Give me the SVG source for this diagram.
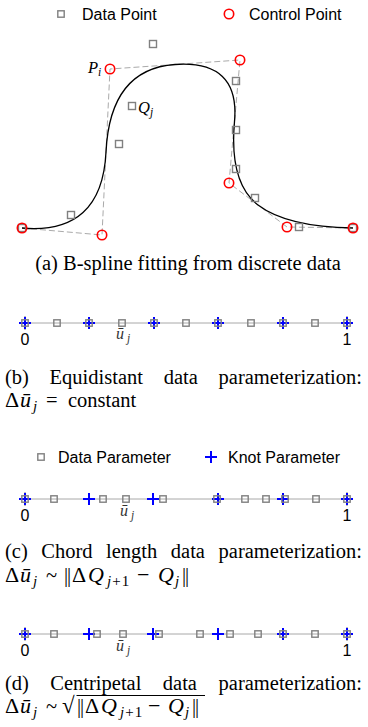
<svg xmlns="http://www.w3.org/2000/svg" width="368" height="727" viewBox="0 0 368 727">
<style>
.sq{fill:none;stroke:#808080;stroke-width:1.4}
.cp{fill:none;stroke:#ff0000;stroke-width:1.6}
.kn{fill:none;stroke:#0000ff;stroke-width:2}
.ax{stroke:#a8a8a8;stroke-width:1}
.tk{stroke:#808080;stroke-width:1}
.poly{fill:none;stroke:#aaaaaa;stroke-width:1;stroke-dasharray:6,3}
.curve{fill:none;stroke:#000000;stroke-width:1.3}
.leg{font-family:"Liberation Sans",Arial,sans-serif;font-size:16px;fill:#000000}
.num{font-family:"Liberation Sans",Arial,sans-serif;font-size:16px;fill:#000000;text-anchor:middle}
.cap{font-family:"Liberation Serif","Times New Roman",serif;font-size:20.5px;fill:#000000}
.m{font-size:22px}
.it{font-style:italic}
.sub{font-size:15px}
.lbl{font-family:"Liberation Serif","Times New Roman",serif;font-style:italic;font-size:16px;fill:#333333}
.lsub{font-size:11.5px}
</style>
<defs>
<rect id="s" x="-3.5" y="-3.5" width="7" height="7" class="sq"/>
<rect id="s2" x="-3.2" y="-3.2" width="6.4" height="6.4" class="sq"/>
<circle id="c" r="4.7" class="cp"/>
<path id="k" d="M-6,0H6M0,-6V6" class="kn"/>
<path id="t" d="M0,-7V7" class="tk"/>
</defs>

<g id="legend-a">
<use href="#s2" x="61" y="14"/>
<text class="leg" x="82" y="20">Data Point</text>
<use href="#c" x="229" y="14"/>
<text class="leg" x="249" y="20">Control Point</text>
</g>

<g id="connectors">
<path id="control-polygon" class="poly" d="M22,228 L102,235 L110,69 L240,60 L229,183 L287,227 L353,228"/>
<path id="bspline-curve" class="curve" d="M22,228 Q102,235 106,152 Q110,69 175,64.5 Q240,60 234.5,121.5 Q229,183 258,205 Q287,227 353,228"/>
</g>

<g id="data-points">
<use href="#s" x="22" y="228"/>
<use href="#s" x="71" y="215"/>
<use href="#s" x="119" y="144"/>
<use href="#s" x="132" y="106"/>
<use href="#s" x="153" y="44"/>
<use href="#s" x="236" y="81"/>
<use href="#s" x="236" y="130"/>
<use href="#s" x="236" y="169"/>
<use href="#s" x="255" y="198"/>
<use href="#s" x="299" y="227"/>
<use href="#s" x="353" y="228"/>
</g>

<g id="control-points">
<use href="#c" x="22" y="228"/>
<use href="#c" x="102" y="235"/>
<use href="#c" x="110" y="69"/>
<use href="#c" x="240" y="60"/>
<use href="#c" x="229" y="183"/>
<use href="#c" x="287" y="227"/>
<use href="#c" x="353" y="228"/>
</g>

<g id="point-labels">
<text class="lbl" style="fill:#000;font-size:16.5px" x="88" y="73">P<tspan class="lsub" x="98" y="76">i</tspan></text>
<text class="lbl" style="fill:#000;font-size:16.5px" x="138" y="113">Q<tspan class="lsub" x="150" y="116">j</tspan></text>
</g>

<g id="caption-a">
<text class="cap" x="188" y="270" text-anchor="middle">(a) B-spline fitting from discrete data</text>
</g>

<g id="axis-b">
<line class="ax" x1="21" y1="323" x2="351" y2="323"/>
<use href="#t" x="25" y="323"/>
<use href="#t" x="347" y="323"/>
<use href="#k" x="25" y="323"/>
<use href="#k" x="89" y="323"/>
<use href="#k" x="154" y="323"/>
<use href="#k" x="218" y="323"/>
<use href="#k" x="283" y="323"/>
<use href="#k" x="347" y="323"/>
<use href="#s2" x="25" y="323"/>
<use href="#s2" x="57" y="323"/>
<use href="#s2" x="89" y="323"/>
<use href="#s2" x="122" y="323"/>
<use href="#s2" x="154" y="323"/>
<use href="#s2" x="186" y="323"/>
<use href="#s2" x="218" y="323"/>
<use href="#s2" x="251" y="323"/>
<use href="#s2" x="283" y="323"/>
<use href="#s2" x="315" y="323"/>
<use href="#s2" x="347" y="323"/>
<text class="num" x="25" y="345">0</text>
<text class="num" x="347" y="345">1</text>
<text class="lbl" x="116" y="339">ū<tspan class="lsub" x="127" y="342">j</tspan></text>
</g>

<g id="caption-b">
<text class="cap" y="384"><tspan x="5">(b)</tspan><tspan x="49.6">Equidistant</tspan><tspan x="163.7">data</tspan></text>
<text class="cap" x="362" y="384" text-anchor="end">parameterization:</text>
<text class="cap" y="407"><tspan class="m" x="5">Δ</tspan><tspan class="it m" x="20">ū</tspan><tspan class="it sub" x="33" y="411">j</tspan><tspan x="46" y="407">=</tspan><tspan x="68">constant</tspan></text>
</g>

<g id="legend-c">
<use href="#s2" x="41" y="457"/>
<text class="leg" x="58" y="463">Data Parameter</text>
<use href="#k" x="211" y="457"/>
<text class="leg" x="228" y="463">Knot Parameter</text>
</g>

<g id="axis-c">
<line class="ax" x1="21" y1="499" x2="351" y2="499"/>
<use href="#t" x="25" y="499"/>
<use href="#t" x="347" y="499"/>
<use href="#k" x="25" y="499"/>
<use href="#k" x="89" y="499"/>
<use href="#k" x="153" y="499"/>
<use href="#k" x="218" y="499"/>
<use href="#k" x="283" y="499"/>
<use href="#k" x="347" y="499"/>
<use href="#s2" x="25" y="499"/>
<use href="#s2" x="54" y="499"/>
<use href="#s2" x="103" y="499"/>
<use href="#s2" x="126" y="499"/>
<use href="#s2" x="163" y="499"/>
<use href="#s2" x="217" y="499"/>
<use href="#s2" x="245" y="499"/>
<use href="#s2" x="266" y="499"/>
<use href="#s2" x="285" y="499"/>
<use href="#s2" x="316" y="499"/>
<use href="#s2" x="347" y="499"/>
<text class="num" x="25" y="521">0</text>
<text class="num" x="347" y="521">1</text>
<text class="lbl" x="120" y="516">ū<tspan class="lsub" x="131" y="519">j</tspan></text>
</g>

<g id="caption-c">
<text class="cap" y="558"><tspan x="5">(c)</tspan><tspan x="41.3">Chord</tspan><tspan x="106">length</tspan><tspan x="170.8">data</tspan></text>
<text class="cap" x="362" y="558" text-anchor="end">parameterization:</text>
<text class="cap" y="582"><tspan class="m" x="5">Δ</tspan><tspan class="it m" x="20">ū</tspan><tspan class="it sub" x="33" y="586">j</tspan><tspan x="46" y="582">~</tspan><tspan x="64" letter-spacing="-1">||</tspan><tspan class="m" x="72">Δ</tspan><tspan class="it m" x="88">Q</tspan><tspan class="sub" x="107" y="586" letter-spacing="1"><tspan class="it">j</tspan>+1</tspan><tspan class="m" x="137" y="582">−</tspan><tspan class="it m" x="158">Q</tspan><tspan class="it sub" x="175" y="586">j</tspan><tspan x="182" y="582" letter-spacing="-1">||</tspan></text>
</g>

<g id="axis-d">
<line class="ax" x1="21" y1="634" x2="351" y2="634"/>
<use href="#t" x="25" y="634"/>
<use href="#t" x="347" y="634"/>
<use href="#k" x="25" y="634"/>
<use href="#k" x="89" y="634"/>
<use href="#k" x="153" y="634"/>
<use href="#k" x="218" y="634"/>
<use href="#k" x="283" y="634"/>
<use href="#k" x="347" y="634"/>
<use href="#s2" x="25" y="634"/>
<use href="#s2" x="54" y="634"/>
<use href="#s2" x="97" y="634"/>
<use href="#s2" x="123" y="634"/>
<use href="#s2" x="159" y="634"/>
<use href="#s2" x="200" y="634"/>
<use href="#s2" x="230" y="634"/>
<use href="#s2" x="258" y="634"/>
<use href="#s2" x="283" y="634"/>
<use href="#s2" x="315" y="634"/>
<use href="#s2" x="347" y="634"/>
<text class="num" x="25" y="656">0</text>
<text class="num" x="347" y="656">1</text>
<text class="lbl" x="116" y="651">ū<tspan class="lsub" x="127" y="654">j</tspan></text>
</g>

<g id="caption-d">
<text class="cap" y="690"><tspan x="5">(d)</tspan><tspan x="50.3">Centripetal</tspan><tspan x="162.8">data</tspan></text>
<text class="cap" x="362" y="690" text-anchor="end">parameterization:</text>
<text class="cap" y="713"><tspan class="m" x="5">Δ</tspan><tspan class="it m" x="20">ū</tspan><tspan class="it sub" x="33" y="717">j</tspan><tspan x="46" y="713">~</tspan><tspan x="62" style="font-size:23px">√</tspan><tspan x="77" letter-spacing="-1">||</tspan><tspan class="m" x="85">Δ</tspan><tspan class="it m" x="101">Q</tspan><tspan class="sub" x="120" y="717" letter-spacing="1"><tspan class="it">j</tspan>+1</tspan><tspan class="m" x="148" y="713">−</tspan><tspan class="it m" x="168">Q</tspan><tspan class="it sub" x="185" y="717">j</tspan><tspan x="192" y="713" letter-spacing="-1">||</tspan></text>
<line x1="76.5" y1="695.5" x2="205" y2="695.5" stroke="#000" stroke-width="1"/>
</g>
</svg>
